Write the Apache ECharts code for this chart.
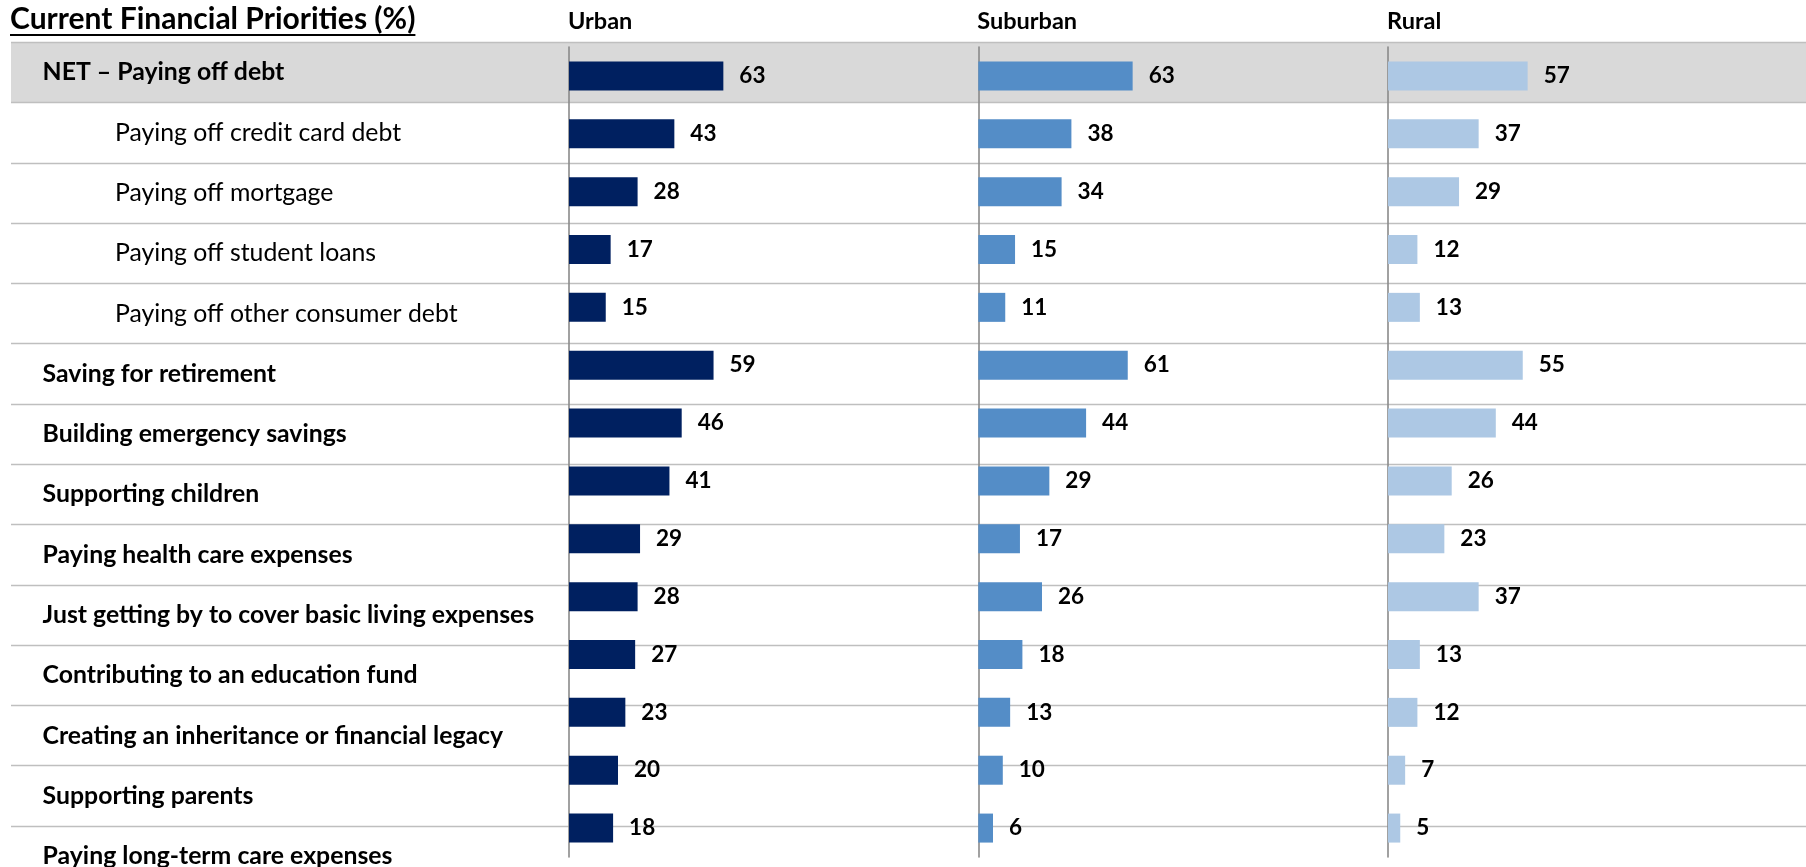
<!DOCTYPE html>
<html>
<head>
<meta charset="utf-8">
<script src="https://cdn.jsdelivr.net/npm/echarts@6/dist/echarts.min.js"></script>
<style>
  html, body { margin: 0; padding: 0; background: #ffffff; overflow: hidden; }
  #chart { width: 1806px; height: 867px; }
</style>
</head>
<body>
<div id="chart"></div>
<script>
// ---- data ----
const chartTitle = 'Current Financial Priorities (%)';
const categories = [
  'NET – Paying off debt',
  'Paying off credit card debt',
  'Paying off mortgage',
  'Paying off student loans',
  'Paying off other consumer debt',
  'Saving for retirement',
  'Building emergency savings',
  'Supporting children',
  'Paying health care expenses',
  'Just getting by to cover basic living expenses',
  'Contributing to an education fund',
  'Creating an inheritance or financial legacy',
  'Supporting parents',
  'Paying long-term care expenses'
];
// 1 = indented sub-item of the NET row
const subItem = [0, 1, 1, 1, 1, 0, 0, 0, 0, 0, 0, 0, 0, 0];
const groupNames = ['Urban', 'Suburban', 'Rural'];
const urban    = [63, 43, 28, 17, 15, 59, 46, 41, 29, 28, 27, 23, 20, 18];
const suburban = [63, 38, 34, 15, 11, 61, 44, 29, 17, 26, 18, 13, 10, 6];
const rural    = [57, 37, 29, 12, 13, 55, 44, 26, 23, 37, 13, 12, 7, 5];

// ---- styling / layout ----
const FONT = 'Lato';
const groupValues = [urban, suburban, rural];
const groupColors = ['#002060', '#548DC7', '#ADC8E4'];
const panelLeft = [569, 978.3, 1388];
const rowTop = 42.3, rowPitch = 60.28;
const barTop = 47, barHeight = 810;
const titleFont = 'bold 30px ' + FONT;

// measure title width for its underline
const ctx = document.createElement('canvas').getContext('2d');
ctx.font = titleFont;
const titleWidth = ctx.measureText(chartTitle).width;

const grids = [{ left: 11, right: 0, top: rowTop, height: rowPitch * categories.length, outerBoundsMode: 'none', containLabel: false }];
const xAxes = [{ gridIndex: 0, type: 'value', min: 0, max: 1, show: false }];
const bandColors = categories.map((c, i) => i === 0 ? '#D9D9D9' : 'rgba(0,0,0,0)');
const yAxes = [{
  gridIndex: 0, type: 'category', inverse: true, data: categories,
  axisLine: { show: false }, axisTick: { show: false },
  splitLine: { show: true, interval: 0, lineStyle: { color: '#BFBFBF', width: 1.3 } },
  splitArea: { show: true, interval: 0, areaStyle: { color: bandColors } },
  axisLabel: {
    interval: 0, align: 'left', margin: -31.6,
    formatter: (v, i) => (subItem[i] ? '{s|' + v + '}' : '{m|' + v + '}'),
    rich: {
      m: { fontFamily: FONT, fontSize: 24.8, fontWeight: 'bold', color: '#000' },
      s: { fontFamily: FONT, fontSize: 24.8, color: '#000', padding: [0, 0, 0, 72.4] }
    }
  }
}];
const series = [];
const titles = [{
  text: chartTitle, left: 10, top: 4, padding: 0,
  textStyle: { fontFamily: FONT, fontSize: 30, fontWeight: 'bold', color: '#000' }
}];

groupNames.forEach((name, g) => {
  const gi = g + 1;
  grids.push({ left: panelLeft[g], width: 245, top: barTop, height: barHeight, outerBoundsMode: 'none', containLabel: false });
  xAxes.push({ gridIndex: gi, type: 'value', min: 0, max: 100, show: false });
  yAxes.push({
    gridIndex: gi, type: 'category', inverse: true, data: categories,
    axisLine: { show: true, lineStyle: { color: '#8A8A8A', width: 1.6 } },
    axisTick: { show: false }, axisLabel: { show: false }, splitLine: { show: false }
  });
  series.push({
    type: 'bar', name: name, xAxisIndex: gi, yAxisIndex: gi,
    data: groupValues[g], barWidth: 29,
    itemStyle: { color: groupColors[g] },
    label: {
      show: true, position: 'right', distance: 16,
      fontFamily: FONT, fontSize: 22.5, fontWeight: 'bold', color: '#000'
    },
    z: 3
  });
  titles.push({
    text: name, left: panelLeft[g] - 1, top: 9, padding: 0,
    textStyle: { fontFamily: FONT, fontSize: 23.5, fontWeight: 'bold', color: '#000' }
  });
});

const chart = echarts.init(document.getElementById('chart'), null, { renderer: 'canvas' });
chart.setOption({
  backgroundColor: '#ffffff',
  animation: false,
  title: titles,
  grid: grids,
  xAxis: xAxes,
  yAxis: yAxes,
  series: series,
  graphic: [{
    type: 'line', shape: { x1: 10, y1: 35, x2: 10 + titleWidth, y2: 35 },
    style: { stroke: '#000', lineWidth: 2 }, z: 10
  }]
});
</script>
</body>
</html>
